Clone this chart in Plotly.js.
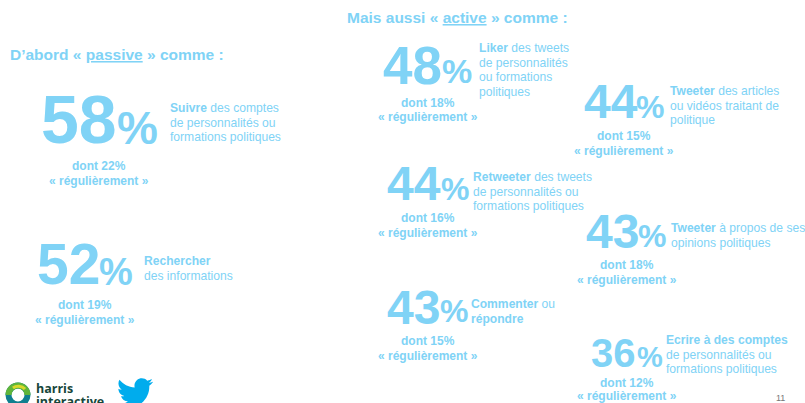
<!DOCTYPE html>
<html>
<head>
<meta charset="utf-8">
<script src="https://cdn.plot.ly/plotly-3.0.1.min.js"></script>
<style>html,body{margin:0;padding:0;background:#fff}#c{width:805px;height:403px}</style>
</head>
<body>
<div id="c"></div>
<script>
// Values
const totals = [58, 52, 48, 44, 44, 43, 43, 36];
const regular = [22, 19, 18, 15, 16, 18, 15, 12];
const descriptions = [
  ["<b>Suivre</b> des comptes", "de personnalités ou", "formations politiques"],
  ["<b>Rechercher</b>", "des informations"],
  ["<b>Liker</b> des tweets", "de personnalités", "ou formations", "politiques"],
  ["<b>Tweeter</b> des articles", "ou vidéos traitant de", "politique"],
  ["<b>Retweeter</b> des tweets", "de personnalités ou", "formations politiques"],
  ["<b>Tweeter</b> à propos de ses", "opinions politiques"],
  ["<b>Commenter</b> ou", "<b>répondre</b>"],
  ["<b>Ecrire à des comptes</b>", "de personnalités ou", "formations politiques"]
];
const titlePassive = "D’abord « <u>passive</u> » comme :";
const titleActive = "Mais aussi « <u>active</u> » comme :";
const regularLabel = "« régulièrement »";
const pageNumber = "11";

// Layout, in page pixels
const numX   = [41, 37, 383, 584, 387, 586, 387, 591];
const numY   = [119, 264, 65, 101, 183, 231, 307, 353];
const numPx  = [68, 57, 53, 48, 48, 48, 48, 40];
const pctX   = [117, 99, 442, 636, 441, 638, 440, 637];
const pctY   = [128, 272, 71, 107, 189, 236, 311, 357];
const pctPx  = [46, 38, 34, 32, 32, 32, 32, 29];
const descX  = [170, 144, 479, 670, 473, 671, 471, 666];
const descY  = [108, 261, 48, 91, 177, 228, 304, 340];
const descStep = 14.7;
const subX   = [99, 85, 428, 624, 428, 627, 428, 627];
const subY   = [166, 305, 103, 136, 218, 265, 341, 383];
const subStep = [15, 15, 14, 15, 15, 15, 15, 13];

const blue = "#80d3f6";
const family = "'Liberation Sans', Arial, sans-serif";
const note = (text, x, y, size, opts) => Object.assign({
  text, x, y, xref: "x", yref: "y", showarrow: false, xanchor: "left", yanchor: "middle",
  borderpad: 0, borderwidth: 0,
  font: {family, size, color: blue}
}, opts || {});

const annotations = [];
annotations.push(note("<b>" + titlePassive + "</b>", 10, 54, 15.5));
annotations.push(note("<b>" + titleActive + "</b>", 347, 17, 15.5));
totals.forEach((v, i) => {
  annotations.push(note("<b>" + v + "</b>", numX[i], numY[i], numPx[i]));
  annotations.push(note("<b>%</b>", pctX[i], pctY[i], pctPx[i]));
  descriptions[i].forEach((line, k) => {
    annotations.push(note(line, descX[i], descY[i] + k * descStep, 12.1));
  });
  annotations.push(note("<b>dont " + regular[i] + "%</b>", subX[i], subY[i], 12, {xanchor: "center"}));
  annotations.push(note("<b>" + regularLabel + "</b>", subX[i], subY[i] + subStep[i], 12, {xanchor: "center"}));
});
annotations.push(note(pageNumber, 780, 398, 9, {xanchor: "center", font: {family, size: 9, color: "#777"}}));
annotations.push(note("<b>harris</b>", 36, 388, 12.5, {font: {family: "'Open Sans', " + family, size: 12.5, color: "#17463a"}}));
annotations.push(note("<b>interactive</b>", 36, 401, 12.5, {font: {family: "'Open Sans', " + family, size: 12.5, color: "#17463a"}}));

// Twitter bird outline, 24-unit box
const bird = [
  "M",23.95,4.57,"C",23.05,4.97,22.1,5.23,21.13,5.35,"C",22.15,4.73,22.92,3.77,23.29,2.62,
  "C",22.34,3.18,21.29,3.58,20.16,3.81,"C",18.3,1.8,15.2,1.7,13.2,3.55,"C",11.9,4.75,11.35,6.4,11.78,8.29,
  "C",7.69,8.09,4.07,6.13,1.64,3.16,"C",1.2,3.9,0.97,4.75,0.97,5.64,"C",0.97,7.35,1.84,8.85,3.16,9.73,
  "C",2.36,9.7,1.6,9.49,0.93,9.12,"L",0.93,9.18,"C",0.93,11.6,2.6,13.5,4.88,14.0,
  "C",4.16,14.2,3.4,14.2,2.66,14.09,"C",3.3,16.05,5.1,17.45,7.27,17.5,"C",5.6,18.85,3.46,19.6,1.17,19.6,
  "C",0.78,19.6,0.39,19.58,0,19.54,"C",2.2,20.95,4.8,21.75,7.56,21.75,"C",16.6,21.75,21.55,14.25,21.55,7.77,
  "C",21.55,7.56,21.55,7.35,21.54,7.14,"C",22.5,6.44,23.35,5.57,24,4.59,"Z"
];
let axis = 0;
const birdPath = bird.map(t => {
  if (typeof t === "string") { axis = 0; return t; }
  const out = (axis++ % 2 === 0) ? 117 + t * 1.5 : 375 + t * 1.5;
  return out.toFixed(2);
}).join(" ");

const ring = (r, color, width) => ({
  type: "circle", xref: "x", yref: "y", x0: 18 - r, x1: 18 + r, y0: 395 - r, y1: 395 + r,
  line: {color, width}, fillcolor: "rgba(0,0,0,0)"
});
const shapes = [
  ring(9.5, "#0f7f8f", 6),
  {type: "path", xref: "x", yref: "y", path: "M 8.5 395 C 8.5 389.5 13 385.5 18 385.5 C 23 385.5 27.5 389.5 27.5 395",
   line: {color: "#5fb53a", width: 6}, fillcolor: "rgba(0,0,0,0)"},
  {type: "path", xref: "x", yref: "y", path: "M 13 388 C 16 385.5 22 385.5 25 389",
   line: {color: "#d8d92a", width: 3}, fillcolor: "rgba(0,0,0,0)"},
  {type: "path", xref: "x", yref: "y", path: birdPath, line: {width: 0}, fillcolor: "#00aced"}
];

Plotly.newPlot("c", [], {
  width: 805, height: 403,
  margin: {l: 0, r: 0, t: 0, b: 0, pad: 0},
  paper_bgcolor: "#fff", plot_bgcolor: "#fff",
  showlegend: false,
  xaxis: {range: [0, 805], visible: false, fixedrange: true},
  yaxis: {range: [403, 0], visible: false, fixedrange: true},
  annotations, shapes
}, {displayModeBar: false, staticPlot: true});
</script>
</body>
</html>
